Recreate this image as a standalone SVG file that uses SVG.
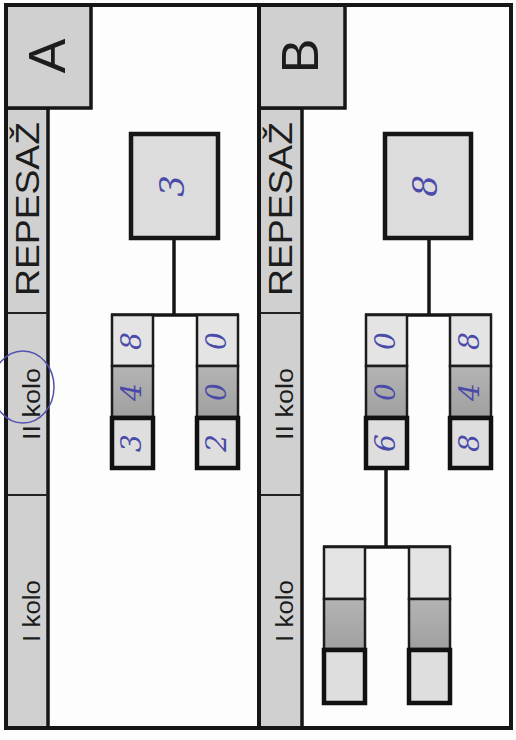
<svg xmlns="http://www.w3.org/2000/svg" width="516" height="740" viewBox="0 0 516 740">
<defs>
<linearGradient id="mid" x1="0" y1="0" x2="0" y2="1">
<stop offset="0" stop-color="#b4b4b4"/><stop offset="1" stop-color="#a0a0a0"/>
</linearGradient>
<style>
.frame{fill:none;stroke:#161616;stroke-width:4}
.strip{fill:#d0d0d0;stroke:#161616;stroke-width:3.5}
.div{stroke:#222;stroke-width:2}
.lbl{font-family:"Century Gothic","URW Gothic","Liberation Sans",sans-serif;fill:#1c1c1c}
.big{fill:#dcdcdc;stroke:#161616;stroke-width:4.5}
.top{fill:#e4e4e4;stroke:#1c1c1c;stroke-width:2.5}
.mid{fill:url(#mid);stroke:#1c1c1c;stroke-width:2.5}
.bot{fill:#dedede;stroke:#111;stroke-width:4.5}
.con{stroke:#161616;stroke-width:3.5;fill:none}
.hw{font-family:"DejaVu Serif","Liberation Serif",serif;font-style:italic;fill:#4a4aa8;text-anchor:middle}
</style>
</defs>
<rect width="516" height="740" fill="#fdfdfd"/>

<g id="panelA">
<rect class="strip" x="6" y="108" width="42" height="620"/>
<line class="div" x1="6" y1="313" x2="48" y2="313"/>
<line class="div" x1="6" y1="495" x2="48" y2="495"/>
<rect class="strip" x="6" y="5" width="85" height="103"/>
<rect class="frame" x="6" y="5" width="253" height="723"/>
<text class="lbl" transform="translate(65,56) rotate(-90)" font-size="52" text-anchor="middle">A</text>
<text class="lbl" transform="translate(39,209) rotate(-90)" font-size="33" text-anchor="middle" textLength="174" lengthAdjust="spacingAndGlyphs">REPESAŽ</text>
<text class="lbl" transform="translate(40,404) rotate(-90)" font-size="23" text-anchor="middle" textLength="72" lengthAdjust="spacingAndGlyphs">II kolo</text>
<text class="lbl" transform="translate(40,611) rotate(-90)" font-size="23" text-anchor="middle" textLength="62" lengthAdjust="spacingAndGlyphs">I kolo</text>
</g>

<g id="panelB">
<rect class="strip" x="259" y="108" width="43" height="620"/>
<line class="div" x1="259" y1="313" x2="302" y2="313"/>
<line class="div" x1="259" y1="495" x2="302" y2="495"/>
<rect class="strip" x="259" y="5" width="86" height="103"/>
<rect class="frame" x="259" y="5" width="252" height="723"/>
<text class="lbl" transform="translate(318,56) rotate(-90)" font-size="52" text-anchor="middle">B</text>
<text class="lbl" transform="translate(292,209) rotate(-90)" font-size="33" text-anchor="middle" textLength="174" lengthAdjust="spacingAndGlyphs">REPESAŽ</text>
<text class="lbl" transform="translate(293,404) rotate(-90)" font-size="23" text-anchor="middle" textLength="72" lengthAdjust="spacingAndGlyphs">II kolo</text>
<text class="lbl" transform="translate(293,611) rotate(-90)" font-size="23" text-anchor="middle" textLength="62" lengthAdjust="spacingAndGlyphs">I kolo</text>
</g>

<g id="connectors">
<line class="con" x1="174" y1="238" x2="174" y2="315"/>
<line class="con" x1="111" y1="315" x2="239" y2="315"/>
<line class="con" x1="429" y1="238" x2="429" y2="315"/>
<line class="con" x1="365" y1="315" x2="492" y2="315"/>
<line class="con" x1="386" y1="468" x2="386" y2="547"/>
<line class="con" x1="323" y1="547" x2="451" y2="547"/>
</g>

<g id="A-final">
<rect class="big" x="131" y="134" width="87" height="104"/>
<text class="hw" transform="translate(184,186) rotate(-90)" font-size="34">3</text>
</g>
<g id="A-m1">
<rect class="top" x="112" y="315" width="41" height="51"/>
<rect class="mid" x="112" y="366" width="41" height="51"/>
<rect class="bot" x="112" y="418" width="41" height="50"/>
<text class="hw" transform="translate(141,341) rotate(-90)" font-size="28">8</text>
<text class="hw" transform="translate(141,392) rotate(-90)" font-size="28">4</text>
<text class="hw" transform="translate(141,443) rotate(-90)" font-size="28">3</text>
</g>
<g id="A-m2">
<rect class="top" x="197" y="315" width="41" height="51"/>
<rect class="mid" x="197" y="366" width="41" height="51"/>
<rect class="bot" x="197" y="418" width="41" height="50"/>
<text class="hw" transform="translate(226,341) rotate(-90)" font-size="28">0</text>
<text class="hw" transform="translate(226,392) rotate(-90)" font-size="28">0</text>
<text class="hw" transform="translate(226,443) rotate(-90)" font-size="28">2</text>
</g>

<g id="B-final">
<rect class="big" x="385" y="134" width="86" height="104"/>
<text class="hw" transform="translate(437,186) rotate(-90)" font-size="34">8</text>
</g>
<g id="B-m1">
<rect class="top" x="366" y="315" width="41" height="51"/>
<rect class="mid" x="366" y="366" width="41" height="51"/>
<rect class="bot" x="366" y="418" width="41" height="50"/>
<text class="hw" transform="translate(395,341) rotate(-90)" font-size="28">0</text>
<text class="hw" transform="translate(395,392) rotate(-90)" font-size="28">0</text>
<text class="hw" transform="translate(395,443) rotate(-90)" font-size="28">6</text>
</g>
<g id="B-m2">
<rect class="top" x="450" y="315" width="41" height="51"/>
<rect class="mid" x="450" y="366" width="41" height="51"/>
<rect class="bot" x="450" y="418" width="41" height="50"/>
<text class="hw" transform="translate(479,341) rotate(-90)" font-size="28">8</text>
<text class="hw" transform="translate(479,392) rotate(-90)" font-size="28">4</text>
<text class="hw" transform="translate(479,443) rotate(-90)" font-size="28">8</text>
</g>
<g id="B-r1a">
<rect class="top" x="324" y="547" width="41" height="52"/>
<rect class="mid" x="324" y="599" width="41" height="50"/>
<rect class="bot" x="324" y="650" width="41" height="53"/>
</g>
<g id="B-r1b">
<rect class="top" x="409" y="547" width="41" height="52"/>
<rect class="mid" x="409" y="599" width="41" height="50"/>
<rect class="bot" x="409" y="650" width="41" height="53"/>
</g>

<ellipse id="circle" cx="23" cy="387" rx="31" ry="36" fill="none" stroke="#5252b0" stroke-width="1.5"/>
</svg>
